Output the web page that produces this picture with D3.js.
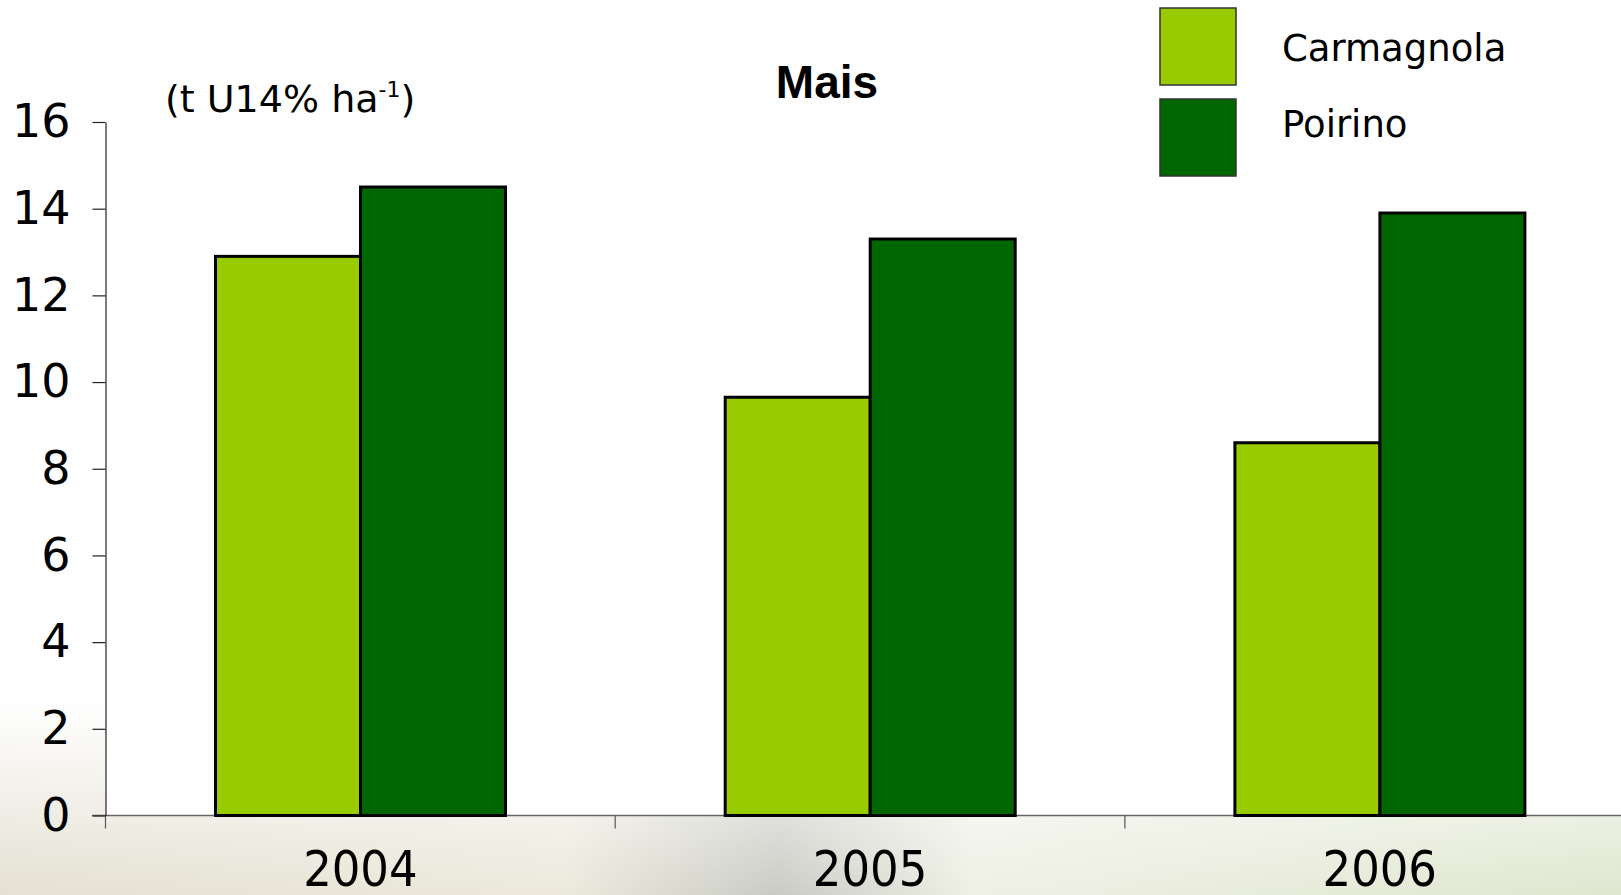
<!DOCTYPE html>
<meta charset="utf-8">
<style>

body {
  margin: 0;
  background: #fff;
}

text {
  font-family: "DejaVu Sans", sans-serif;
  fill: #000;
}

</style>
<body>
<script src="https://d3js.org/d3.v7.min.js"></script>
<script>

// data
var years = ["2004", "2005", "2006"];
var series = ["Carmagnola", "Poirino"];
var carmagnola = [12.9, 9.65, 8.6];
var poirino = [14.5, 13.3, 13.9];
var yTicks = [0, 2, 4, 6, 8, 10, 12, 14, 16];
var colors = ["#99cc00", "#006600"];

var W = 1621, H = 895;
var plotLeft = 105.5, plotTop = 122, plotBottom = 815.5,
    band = 509.7;

var svg = d3.select("body").append("svg")
    .attr("width", W)
    .attr("height", H);

// faint photo-like backdrop at the foot of the slide
var defs = svg.append("defs");
var hg = defs.append("linearGradient").attr("id", "hg");
hg.append("stop").attr("offset", "0%").attr("stop-color", "#e4e0d2");
hg.append("stop").attr("offset", "35%").attr("stop-color", "#ece9dc");
hg.append("stop").attr("offset", "48%").attr("stop-color", "#c9cbc4");
hg.append("stop").attr("offset", "60%").attr("stop-color", "#eef0e4");
hg.append("stop").attr("offset", "100%").attr("stop-color", "#dfe6cf");
var vg = defs.append("linearGradient").attr("id", "vg")
    .attr("x1", 0).attr("y1", 0).attr("x2", 0).attr("y2", 1);
vg.append("stop").attr("offset", "0%").attr("stop-color", "#fff").attr("stop-opacity", 0);
vg.append("stop").attr("offset", "100%").attr("stop-color", "#fff").attr("stop-opacity", 1);
defs.append("mask").attr("id", "fade")
  .append("rect")
    .attr("x", 0).attr("y", 700).attr("width", W).attr("height", H - 700)
    .attr("fill", "url(#vg)");

svg.append("rect")
    .attr("x", 0).attr("y", 700).attr("width", W).attr("height", H - 700)
    .attr("fill", "url(#hg)")
    .attr("mask", "url(#fade)");

// white plot area
svg.append("rect")
    .attr("x", plotLeft).attr("y", 0)
    .attr("width", W - plotLeft).attr("height", plotBottom)
    .attr("fill", "#fff");

var x0 = d3.scaleBand()
    .domain(years)
    .range([plotLeft, plotLeft + band * years.length]);

var x1 = d3.scaleBand()
    .domain(series)
    .range([110, 110 + 290]);

var y = d3.scaleLinear()
    .domain([0, 16])
    .range([plotBottom, plotTop]);

var color = d3.scaleOrdinal()
    .domain(series)
    .range(colors);

var rows = years.map(function(yr, i) {
  return {year: yr, values: [
    {key: "Carmagnola", value: carmagnola[i]},
    {key: "Poirino", value: poirino[i]}
  ]};
});

// x axis line and category boundary ticks
svg.append("line")
    .attr("x1", 92).attr("x2", W)
    .attr("y1", plotBottom).attr("y2", plotBottom)
    .attr("stroke", "#666")
    .attr("stroke-width", 1.5);

svg.selectAll(".xtick")
    .data(years)
  .enter().append("line")
    .attr("class", "xtick")
    .attr("x1", function(d) { return x0(d); })
    .attr("x2", function(d) { return x0(d); })
    .attr("y1", plotBottom)
    .attr("y2", plotBottom + 13)
    .attr("stroke", "#555")
    .attr("stroke-width", 1.2);

var xAxis = d3.axisBottom(x0).tickSize(0).tickPadding(35);
var gx = svg.append("g")
    .attr("transform", "translate(0," + plotBottom + ")")
    .call(xAxis);
gx.select(".domain").remove();
gx.selectAll("text")
    .style("font-family", "'DejaVu Sans Condensed', 'DejaVu Sans', sans-serif")
    .style("font-size", "50px")
    .attr("fill", "#000");

// y axis
var yAxis = d3.axisLeft(y).tickValues(yTicks).tickSize(13).tickSizeOuter(0).tickPadding(22);
var gy = svg.append("g")
    .attr("transform", "translate(" + plotLeft + ",0)")
    .call(yAxis);
gy.select(".domain").attr("stroke", "#222").attr("stroke-width", 1.2);
gy.selectAll(".tick line").attr("stroke", "#222").attr("stroke-width", 1.2);
gy.selectAll("text")
    .style("font-size", "46px")
    .attr("fill", "#000");

// bars
var groups = svg.selectAll(".grp")
    .data(rows)
  .enter().append("g")
    .attr("class", "grp")
    .attr("transform", function(d) { return "translate(" + x0(d.year) + ",0)"; });

groups.selectAll("rect")
    .data(function(d) { return d.values; })
  .enter().append("rect")
    .attr("x", function(d) { return x1(d.key); })
    .attr("width", x1.bandwidth())
    .attr("y", function(d) { return y(d.value); })
    .attr("height", function(d) { return y(0) - y(d.value); })
    .attr("fill", function(d) { return color(d.key); })
    .attr("stroke", "#000")
    .attr("stroke-width", 3);

// title
svg.append("text")
    .attr("x", 827)
    .attr("y", 98)
    .attr("text-anchor", "middle")
    .style("font-family", "'Liberation Sans', Arial, sans-serif")
    .style("font-weight", "bold")
    .style("font-size", "46px")
    .text("Mais");

// unit label
var unit = svg.append("text")
    .attr("x", 165)
    .attr("y", 112)
    .style("font-size", "38px");
unit.append("tspan").text("(t U14% ha");
unit.append("tspan").attr("dy", -15).style("font-size", "22px").text("-1");
unit.append("tspan").attr("dy", 15).text(")");

// legend
var legend = svg.selectAll(".legend")
    .data(series)
  .enter().append("g")
    .attr("class", "legend");

legend.append("rect")
    .attr("x", 1160)
    .attr("y", function(d, i) { return 8 + i * 91; })
    .attr("width", 76)
    .attr("height", 77)
    .attr("fill", function(d) { return color(d); })
    .attr("stroke", "#333")
    .attr("stroke-width", 1.5);

legend.append("text")
    .attr("x", 1282)
    .attr("y", function(d, i) { return 48 + i * 76; })
    .attr("dy", ".35em")
    .style("font-size", "37px")
    .text(function(d) { return d; });

</script>
